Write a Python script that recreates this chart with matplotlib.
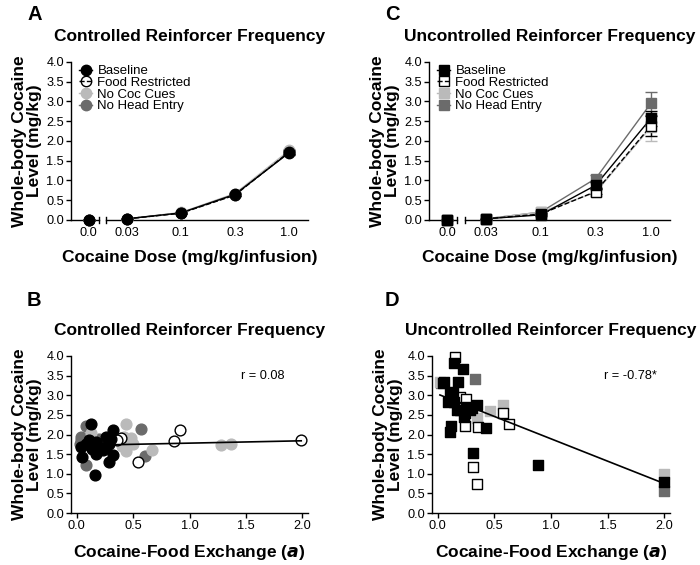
import matplotlib
matplotlib.use("Agg")
import matplotlib.pyplot as plt
from matplotlib.lines import Line2D
import numpy as np

plt.rcParams['font.family'] = ['Liberation Sans', 'DejaVu Sans']

# ---------------- data ----------------
dose_labels = ['0.0', '0.03', '0.1', '0.3', '1.0']
groups = ['Baseline', 'Food Restricted', 'No Coc Cues', 'No Head Entry']

# Panel A (controlled reinforcer frequency), mean whole-body cocaine level
a_baseline = [0.0, 0.03, 0.18, 0.65, 1.70]
a_food = [0.0, 0.03, 0.17, 0.63, 1.72]
a_nococ = [0.0, 0.03, 0.19, 0.67, 1.76]
a_nohead = [0.0, 0.03, 0.18, 0.64, 1.72]
a_err = [0.0, 0.0, 0.01, 0.03, 0.05]

# Panel C (uncontrolled reinforcer frequency)
c_baseline = [0.0, 0.03, 0.13, 0.88, 2.57]
c_food = [0.0, 0.03, 0.15, 0.72, 2.38]
c_nococ = [0.0, 0.03, 0.20, 0.70, 2.35]
c_nohead = [0.0, 0.03, 0.20, 1.05, 2.95]
c_err_baseline = [0.0, 0.0, 0.02, 0.08, 0.18]
c_err_food = [0.0, 0.0, 0.02, 0.07, 0.25]
c_err_nococ = [0.0, 0.0, 0.03, 0.08, 0.35]
c_err_nohead = [0.0, 0.0, 0.03, 0.10, 0.30]

# Panel B scatter (x = cocaine-food exchange a, y = cocaine level)
b_base_x = [0.13, 0.16, 0.32, 0.04, 0.05, 0.11, 0.17, 0.20, 0.17, 0.26, 0.29, 0.29, 0.32, 0.23, 0.08, 0.26, 0.14, 0.30]
b_base_y = [2.27, 0.96, 2.11, 1.69, 1.43, 1.86, 1.81, 1.69, 1.51, 1.94, 1.77, 1.30, 1.47, 1.60, 1.77, 1.69, 1.62, 1.88]
b_food_x = [0.39, 0.54, 0.86, 0.92, 1.99, 0.36]
b_food_y = [1.92, 1.30, 1.83, 2.11, 1.87, 1.85]
b_nococ_x = [0.44, 0.42, 0.44, 0.50, 0.67, 1.28, 1.37, 0.13, 0.48, 0.40]
b_nococ_y = [2.26, 1.94, 1.58, 1.77, 1.60, 1.73, 1.77, 2.03, 1.90, 1.70]
b_nohead_x = [0.08, 0.04, 0.08, 0.57, 0.61, 0.04, 0.20, 0.03]
b_nohead_y = [2.22, 1.94, 1.22, 2.13, 1.45, 1.86, 1.88, 1.75]
b_fit = (1.72, 0.06)   # intercept, slope
b_r = 'r = 0.08'

# Panel D scatter
d_base_x = [0.146, 0.22, 0.06, 0.175, 0.135, 0.088, 0.17, 0.345, 0.23, 0.287, 0.43, 0.117, 0.11, 0.316, 0.887, 2.0,
            0.05, 0.11, 0.14, 0.20, 0.26, 0.30, 0.24]
d_base_y = [3.81, 3.66, 3.34, 3.34, 3.09, 2.84, 2.62, 2.75, 2.45, 2.62, 2.17, 2.21, 2.07, 1.53, 1.22, 0.80,
            3.32, 3.05, 2.83, 2.62, 2.70, 2.68, 2.55]
d_food_x = [0.156, 0.20, 0.25, 0.575, 0.63, 0.24, 0.36, 0.31, 0.35]
d_food_y = [3.97, 2.96, 2.90, 2.56, 2.28, 2.22, 2.19, 1.17, 0.73]
d_nococ_x = [0.02, 0.46, 0.575, 0.345, 2.0]
d_nococ_y = [3.34, 2.60, 2.75, 2.43, 1.00]
d_nohead_x = [0.33, 0.03, 2.0]
d_nohead_y = [3.42, 3.30, 0.57]
d_fit = (3.03, -1.14)
d_r = 'r = -0.78*'

# ---------------- style ----------------
BLACK = '#000000'
LGRAY = '#bababa'
DGRAY = '#6b6b6b'
W, H = 700, 565
fig = plt.figure(figsize=(W / 100, H / 100), dpi=100)


def add_ax(l, r, t, b):
    return fig.add_axes([l / W, 1 - b / H, (r - l) / W, (b - t) / H])


TICKFS = 9.2
LABFS = 12.5


def style_common(ax):
    ax.spines['top'].set_visible(False)
    ax.spines['right'].set_visible(False)
    for s in ('left', 'bottom'):
        ax.spines[s].set_linewidth(1.0)
    ax.set_ylim(0, 4)
    ax.set_yticks(np.arange(0, 4.01, 0.5))
    ax.set_yticklabels([f'{v:.1f}' for v in np.arange(0, 4.01, 0.5)])
    ax.tick_params(axis='both', direction='out', length=3.5, width=1.0,
                   labelsize=TICKFS, pad=1.5)
    ax.set_ylabel('Whole-body Cocaine\nLevel (mg/kg)', fontsize=LABFS,
                  fontweight='bold', linespacing=1.0, labelpad=3)


# dose axis positions
pos = np.array([0.3, 1, 2, 3, 4])
XL = (-0.03, 4.35)
BRK = (0.48, 0.62)


def dose_axes(ax):
    style_common(ax)
    ax.set_xlim(*XL)
    ax.set_xticks(pos)
    ax.set_xticklabels(dose_labels)
    ax.tick_params(axis='x', length=0, pad=5)
    ax.spines['bottom'].set_bounds(XL[0], BRK[0])
    ax.plot([BRK[1], XL[1]], [0, 0], color='k', lw=1.0, clip_on=False, zorder=1)
    for xb in BRK:
        ax.plot([xb, xb], [-0.08, 0.08], color='k', lw=1.0, clip_on=False, zorder=1)
    ax.set_xlabel('Cocaine Dose (mg/kg/infusion)', fontsize=LABFS,
                  fontweight='bold', labelpad=8)


def plot_dose(ax, series, errs, marker, styles):
    for ys, es, (col, mfc, ls, lcol) in zip(series, errs, styles):
        ys = np.array(ys)
        es = np.array(es)
        ax.plot(pos[1:], ys[1:], color=lcol, ls=ls, lw=1.0, zorder=2, clip_on=False)
        ax.errorbar(pos, ys, yerr=es, fmt='none', ecolor=col if col != 'white' else 'k',
                    elinewidth=1.0, capsize=4, zorder=2, clip_on=False)
        ax.plot(pos, ys, ls='none', marker=marker, ms=7.5, mfc=mfc,
                mec=BLACK if mfc in (BLACK, 'white') else mfc,
                mew=1.0, zorder=3, clip_on=False)


def legend(ax, marker, styles):
    handles = []
    for col, mfc, ls, lcol in styles:
        mec = BLACK if mfc in (BLACK, 'white') else mfc
        handles.append(Line2D([], [], color=lcol, ls=ls, lw=1.0, marker=marker, ms=7.5,
                              mfc=mfc if mfc != 'white' else 'none', mec=mec, mew=1.0))
    ax.legend(handles, groups, loc='upper left', bbox_to_anchor=(0.0, 1.03), frameon=False,
              fontsize=9.5, handlelength=1.0, handletextpad=0.4, labelspacing=-0.05,
              borderaxespad=0.2)


styles_a = [(BLACK, BLACK, '-', BLACK), ('white', 'white', '--', BLACK),
            (LGRAY, LGRAY, '-', LGRAY), (DGRAY, DGRAY, '-', DGRAY)]

# ---- Panel A ----
axA = add_ax(71, 308, 62, 220)
dose_axes(axA)
plot_dose(axA, [a_nohead, a_nococ, a_food, a_baseline], [a_err] * 4, 'o',
          [styles_a[3], styles_a[2], styles_a[1], styles_a[0]])
legend(axA, 'o', styles_a)

# ---- Panel C ----
axC = add_ax(429, 670, 62, 220)
dose_axes(axC)
plot_dose(axC, [c_nohead, c_nococ, c_food, c_baseline],
          [c_err_nohead, c_err_nococ, c_err_food, c_err_baseline], 's',
          [styles_a[3], styles_a[2], styles_a[1], styles_a[0]])
legend(axC, 's', styles_a)


# ---- scatter panels ----
def scatter_axes(ax):
    style_common(ax)
    ax.set_xlim(-0.05, 2.05)
    ax.set_xticks([0, 0.5, 1.0, 1.5, 2.0])
    ax.set_xticklabels(['0.0', '0.5', '1.0', '1.5', '2.0'])
    ax.spines['bottom'].set_bounds(-0.05, 2.05)
    ax.set_xlabel('Cocaine-Food Exchange ($\\mathbfit{a}$)', fontsize=LABFS,
                  fontweight='bold', labelpad=8)


def scatter_panel(ax, marker, data, fit, rtext, rx):
    scatter_axes(ax)
    allx = np.concatenate([d[0] for d in data])
    xs = np.array([allx.min(), allx.max()])
    ax.plot(xs, fit[0] + fit[1] * xs, color='k', lw=1.2, zorder=4)
    order = [(data[3], DGRAY, DGRAY), (data[2], LGRAY, LGRAY),
             (data[1], 'white', BLACK), (data[0], BLACK, BLACK)]
    for (x, y), fc, ec in order:
        ax.scatter(x, y, s=60, marker=marker, facecolor=fc, edgecolor=ec,
                   linewidths=1.0, zorder=3, clip_on=False)
    ax.text(rx, 3.5, rtext, fontsize=9.2, ha='left', va='center')


axB = add_ax(71, 308, 356, 513)
scatter_panel(axB, 'o', [(b_base_x, b_base_y), (b_food_x, b_food_y),
                         (b_nococ_x, b_nococ_y), (b_nohead_x, b_nohead_y)],
              b_fit, b_r, 1.46)

axD = add_ax(432, 670, 356, 513)
scatter_panel(axD, 's', [(d_base_x, d_base_y), (d_food_x, d_food_y),
                         (d_nococ_x, d_nococ_y), (d_nohead_x, d_nohead_y)],
              d_fit, d_r, 1.47)

# titles and panel letters
for ax, title in [(axA, 'Controlled Reinforcer Frequency'),
                  (axC, 'Uncontrolled Reinforcer Frequency'),
                  (axB, 'Controlled Reinforcer Frequency'),
                  (axD, 'Uncontrolled Reinforcer Frequency')]:
    ax.set_title(title, fontsize=LABFS, fontweight='bold', pad=15)

fig.text(27 / W, 1 - 15 / H, 'A', fontsize=14.5, fontweight='bold', va='center')
fig.text(385 / W, 1 - 15 / H, 'C', fontsize=14.5, fontweight='bold', va='center')
fig.text(27 / W, 1 - 300 / H, 'B', fontsize=14.5, fontweight='bold', va='center')
fig.text(385 / W, 1 - 300 / H, 'D', fontsize=14.5, fontweight='bold', va='center')

fig.savefig('out.png', dpi=100)
